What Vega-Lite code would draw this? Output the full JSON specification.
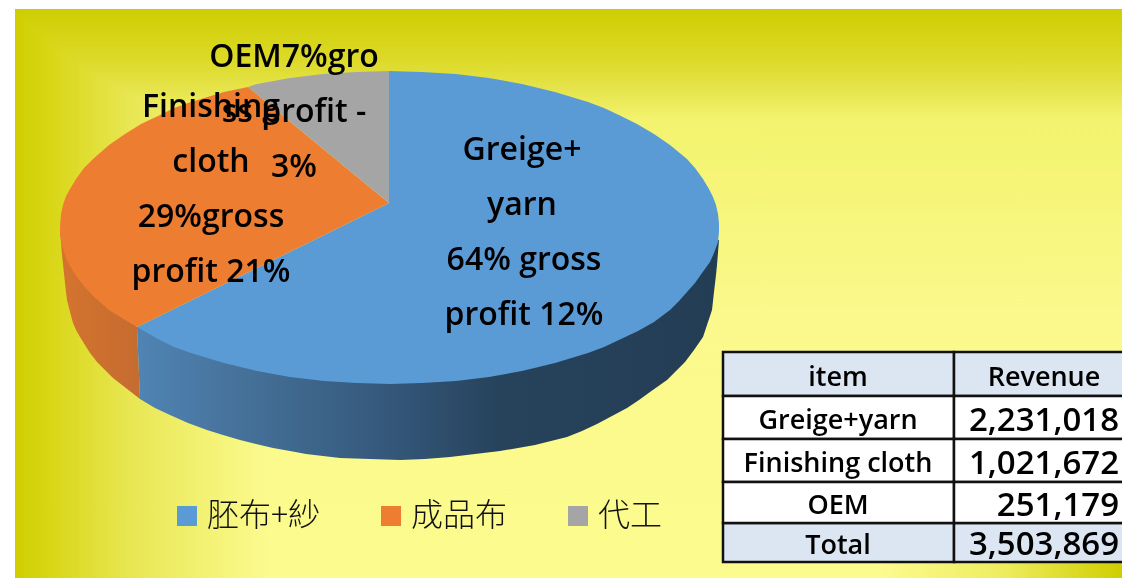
{
"$schema":"https://vega.github.io/schema/vega-lite/v6.json",
"width":1122,"height":578,
"autosize":{"type":"none"},
"padding":0,
"background":"#ffffff",
"view":{"stroke":null},
"datasets":{
"panel":[{"x":15,"x2":1130,"y":9,"y2":578}],
"leftBand":[{"x":15,"x2":300,"y":9,"y2":578}],
"cornerBand":[{"x":880,"x2":1122,"y":560,"y2":578}],
"sideOrange":[
{"o":1,"x":60,"y":230},{"o":2,"x":137,"y":327},{"o":3,"x":140,"y":399},{"o":4,"x":131,"y":392},{"o":5,"x":122,"y":385},{"o":6,"x":113,"y":378},{"o":7,"x":105,"y":370},{"o":8,"x":97,"y":362},{"o":9,"x":90,"y":353},{"o":10,"x":85,"y":345},{"o":11,"x":80,"y":337},{"o":12,"x":76,"y":330},{"o":13,"x":73,"y":323},{"o":14,"x":70,"y":312},{"o":15,"x":67,"y":300},{"o":16,"x":66,"y":292},{"o":17,"x":65,"y":283},{"o":18,"x":62,"y":255}],
"sideBlue":[
{"o":1,"x":137,"y":327},{"o":2,"x":389,"y":300},{"o":3,"x":719,"y":240},{"o":4,"x":717,"y":265},{"o":5,"x":716,"y":275},{"o":6,"x":714,"y":292},{"o":7,"x":712,"y":310},{"o":8,"x":708,"y":322},{"o":9,"x":703,"y":337},{"o":10,"x":694,"y":350},{"o":11,"x":685,"y":362},{"o":12,"x":676,"y":371},{"o":13,"x":667,"y":380},{"o":14,"x":650,"y":392},{"o":15,"x":639,"y":400},{"o":16,"x":627,"y":408},{"o":17,"x":612,"y":416},{"o":18,"x":597,"y":424},{"o":19,"x":582,"y":431},{"o":20,"x":567,"y":437},{"o":21,"x":551,"y":441},{"o":22,"x":535,"y":445},{"o":23,"x":518,"y":448},{"o":24,"x":500,"y":451},{"o":25,"x":475,"y":454},{"o":26,"x":450,"y":457},{"o":27,"x":425,"y":459},{"o":28,"x":400,"y":460},{"o":29,"x":370,"y":459},{"o":30,"x":340,"y":458},{"o":31,"x":323,"y":456},{"o":32,"x":306,"y":454},{"o":33,"x":290,"y":451},{"o":34,"x":273,"y":448},{"o":35,"x":256,"y":444},{"o":36,"x":240,"y":440},{"o":37,"x":223,"y":435},{"o":38,"x":207,"y":430},{"o":39,"x":188,"y":423},{"o":40,"x":170,"y":415},{"o":41,"x":155,"y":408},{"o":42,"x":140,"y":399}],
"top":[
{"s":"胚布+紗","o":1,"x":389,"y":203},{"s":"胚布+紗","o":2,"x":389,"y":71},{"s":"胚布+紗","o":3,"x":422,"y":72},{"s":"胚布+紗","o":4,"x":456,"y":74},{"s":"胚布+紗","o":5,"x":489,"y":78},{"s":"胚布+紗","o":6,"x":522,"y":84},{"s":"胚布+紗","o":7,"x":555,"y":92},{"s":"胚布+紗","o":8,"x":588,"y":102},{"s":"胚布+紗","o":9,"x":604,"y":108},{"s":"胚布+紗","o":10,"x":621,"y":116},{"s":"胚布+紗","o":11,"x":637,"y":124},{"s":"胚布+紗","o":12,"x":654,"y":134},{"s":"胚布+紗","o":13,"x":670,"y":145},{"s":"胚布+紗","o":14,"x":687,"y":159},{"s":"胚布+紗","o":15,"x":695,"y":168},{"s":"胚布+紗","o":16,"x":703,"y":179},{"s":"胚布+紗","o":17,"x":709,"y":189},{"s":"胚布+紗","o":18,"x":713,"y":197},{"s":"胚布+紗","o":19,"x":716,"y":205},{"s":"胚布+紗","o":20,"x":718,"y":214},{"s":"胚布+紗","o":21,"x":719,"y":223},{"s":"胚布+紗","o":22,"x":719,"y":232},{"s":"胚布+紗","o":23,"x":718,"y":242},{"s":"胚布+紗","o":24,"x":714,"y":253},{"s":"胚布+紗","o":25,"x":710,"y":262},{"s":"胚布+紗","o":26,"x":702,"y":273},{"s":"胚布+紗","o":27,"x":695,"y":283},{"s":"胚布+紗","o":28,"x":687,"y":292},{"s":"胚布+紗","o":29,"x":679,"y":301},{"s":"胚布+紗","o":30,"x":670,"y":310},{"s":"胚布+紗","o":31,"x":662,"y":316},{"s":"胚布+紗","o":32,"x":654,"y":322},{"s":"胚布+紗","o":33,"x":638,"y":331},{"s":"胚布+紗","o":34,"x":621,"y":339},{"s":"胚布+紗","o":35,"x":604,"y":347},{"s":"胚布+紗","o":36,"x":588,"y":353},{"s":"胚布+紗","o":37,"x":555,"y":363},{"s":"胚布+紗","o":38,"x":522,"y":371},{"s":"胚布+紗","o":39,"x":489,"y":377},{"s":"胚布+紗","o":40,"x":456,"y":381},{"s":"胚布+紗","o":41,"x":422,"y":383},{"s":"胚布+紗","o":42,"x":390,"y":384},{"s":"胚布+紗","o":43,"x":357,"y":383},{"s":"胚布+紗","o":44,"x":324,"y":381},{"s":"胚布+紗","o":45,"x":290,"y":377},{"s":"胚布+紗","o":46,"x":257,"y":371},{"s":"胚布+紗","o":47,"x":224,"y":363},{"s":"胚布+紗","o":48,"x":191,"y":353},{"s":"胚布+紗","o":49,"x":174,"y":347},{"s":"胚布+紗","o":50,"x":158,"y":339},{"s":"胚布+紗","o":51,"x":137,"y":327},
{"s":"成品布","o":1,"x":389,"y":203},{"s":"成品布","o":2,"x":137,"y":327},{"s":"成品布","o":3,"x":125,"y":320},{"s":"成品布","o":4,"x":109,"y":310},{"s":"成品布","o":5,"x":101,"y":303},{"s":"成品布","o":6,"x":93,"y":296},{"s":"成品布","o":7,"x":84,"y":286},{"s":"成品布","o":8,"x":76,"y":276},{"s":"成品布","o":9,"x":70,"y":266},{"s":"成品布","o":10,"x":66,"y":258},{"s":"成品布","o":11,"x":62,"y":245},{"s":"成品布","o":12,"x":60,"y":235},{"s":"成品布","o":13,"x":60,"y":227},{"s":"成品布","o":14,"x":61,"y":214},{"s":"成品布","o":15,"x":63,"y":205},{"s":"成品布","o":16,"x":66,"y":196},{"s":"成品布","o":17,"x":70,"y":189},{"s":"成品布","o":18,"x":76,"y":179},{"s":"成品布","o":19,"x":84,"y":168},{"s":"成品布","o":20,"x":93,"y":159},{"s":"成品布","o":21,"x":101,"y":152},{"s":"成品布","o":22,"x":109,"y":145},{"s":"成品布","o":23,"x":125,"y":134},{"s":"成品布","o":24,"x":141,"y":124},{"s":"成品布","o":25,"x":158,"y":116},{"s":"成品布","o":26,"x":174,"y":108},{"s":"成品布","o":27,"x":191,"y":102},{"s":"成品布","o":28,"x":224,"y":92},{"s":"成品布","o":29,"x":248,"y":87},
{"s":"代工","o":1,"x":389,"y":203},{"s":"代工","o":2,"x":248,"y":87},{"s":"代工","o":3,"x":257,"y":84},{"s":"代工","o":4,"x":290,"y":78},{"s":"代工","o":5,"x":323,"y":74},{"s":"代工","o":6,"x":356,"y":72},{"s":"代工","o":7,"x":389,"y":71}],
"labels":[
{"t":"OEM7%gro","x":294,"y":57},{"t":"ss profit -","x":294,"y":112},{"t":"3%","x":294,"y":167},
{"t":"Finishing","x":211,"y":107},{"t":"cloth","x":211,"y":162},{"t":"29%gross","x":211,"y":217},{"t":"profit 21%","x":211,"y":272},
{"t":"Greige+","x":522,"y":150},{"t":"yarn","x":522,"y":205},{"t":"64% gross","x":524,"y":260},{"t":"profit 12%","x":524,"y":315}],
"shaded":[
{"x":723,"x2":954,"y":352,"y2":396},{"x":954,"x2":1130,"y":352,"y2":396},
{"x":723,"x2":954,"y":523,"y2":562},{"x":954,"x2":1130,"y":523,"y2":562}],
"plain":[
{"x":723,"x2":954,"y":396,"y2":439},{"x":954,"x2":1130,"y":396,"y2":439},
{"x":723,"x2":954,"y":439,"y2":482},{"x":954,"x2":1130,"y":439,"y2":482},
{"x":723,"x2":954,"y":482,"y2":523},{"x":954,"x2":1130,"y":482,"y2":523}],
"col1":[{"t":"item","x":838,"y":378},{"t":"Greige+yarn","x":838,"y":421},{"t":"Finishing cloth","x":838,"y":464},{"t":"OEM","x":838,"y":506},{"t":"Total","x":838,"y":546}],
"head2":[{"t":"Revenue","x":1044,"y":378}],
"nums":[{"t":"2,231,018","x":1119,"y":421},{"t":"1,021,672","x":1119,"y":464},{"t":"251,179","x":1119,"y":506},{"t":"3,503,869","x":1119,"y":545}]
},
"encoding":{"x":{"field":"x","type":"quantitative","scale":{"domain":[0,1122],"nice":false,"zero":false},"axis":null},"y":{"field":"y","type":"quantitative","scale":{"domain":[0,578],"reverse":true,"nice":false,"zero":false},"axis":null}},
"layer":[
{"data":{"name":"panel"},"mark":{"type":"rect","fill":{"gradient":"linear","x1":0,"y1":0,"x2":0,"y2":1,"stops":[{"offset":0,"color":"#cfcd00"},{"offset":0.09,"color":"#dcda28"},{"offset":0.142,"color":"#e6e44c"},{"offset":0.195,"color":"#f3f36f"},{"offset":0.55,"color":"#fbf98c"},{"offset":1,"color":"#fcfb8e"}]}},
"encoding":{"x2":{"field":"x2"},"y2":{"field":"y2"}}},
{"data":{"name":"leftBand"},"mark":{"type":"rect","blend":"darken","fill":{"gradient":"linear","x1":0,"y1":0,"x2":1,"y2":0,"stops":[{"offset":0,"color":"#d0ce00"},{"offset":0.12,"color":"#d8d615"},{"offset":0.4,"color":"#e8e652"},{"offset":0.72,"color":"#f5f47a"},{"offset":1,"color":"#ffff9c"}]}},
"encoding":{"x2":{"field":"x2"},"y2":{"field":"y2"}}},
{"data":{"name":"cornerBand"},"mark":{"type":"rect","fill":{"gradient":"linear","x1":0,"y1":0,"x2":1,"y2":0,"stops":[{"offset":0,"color":"#fcfb8e"},{"offset":0.5,"color":"#eeed60"},{"offset":1,"color":"#d0ce00"}]}},
"encoding":{"x2":{"field":"x2"},"y2":{"field":"y2"}}},
{"data":{"name":"sideOrange"},"mark":{"type":"line","interpolate":"linear-closed","filled":true,"fill":{"gradient":"linear","x1":0,"y1":0,"x2":1,"y2":0,"stops":[{"offset":0,"color":"#d4742e"},{"offset":1,"color":"#c56c30"}]},"stroke":null},
"encoding":{"order":{"field":"o","type":"quantitative"}}},
{"data":{"name":"sideBlue"},"mark":{"type":"line","interpolate":"linear-closed","filled":true,"fill":{"gradient":"linear","x1":0,"y1":0,"x2":1,"y2":0,"stops":[{"offset":0,"color":"#5084b4"},{"offset":0.19,"color":"#457098"},{"offset":0.45,"color":"#335678"},{"offset":0.62,"color":"#27435c"},{"offset":1,"color":"#233d55"}]},"stroke":null},
"encoding":{"order":{"field":"o","type":"quantitative"}}},
{"data":{"name":"top"},"mark":{"type":"line","interpolate":"linear-closed","filled":true,"stroke":null},
"encoding":{"order":{"field":"o","type":"quantitative"},
"color":{"field":"s","type":"nominal","scale":{"domain":["胚布+紗","成品布","代工"],"range":["#5b9bd5","#ed7d31","#a5a5a5"]},
"legend":{"orient":"none","legendX":171,"legendY":500,"direction":"horizontal","columns":3,"title":null,"symbolType":"square","symbolSize":400,"symbolStrokeWidth":0,"labelFont":"Noto Sans CJK TC","labelFontSize":32,"labelFontWeight":300,"labelColor":"#111111","labelOffset":4,"columnPadding":54,"padding":0,"gridAlign":"none","symbolOpacity":1}}}},
{"data":{"name":"labels"},"mark":{"type":"text","font":"Open Sans","fontSize":32,"fontWeight":600,"color":"#000000","align":"center","baseline":"middle"},
"encoding":{"text":{"field":"t"}}},
{"data":{"name":"shaded"},"mark":{"type":"rect","fill":"#dce6f2","stroke":"#111111","strokeWidth":2.5},
"encoding":{"x2":{"field":"x2"},"y2":{"field":"y2"}}},
{"data":{"name":"plain"},"mark":{"type":"rect","fill":"#ffffff","stroke":"#111111","strokeWidth":2.5},
"encoding":{"x2":{"field":"x2"},"y2":{"field":"y2"}}},
{"data":{"name":"col1"},"mark":{"type":"text","font":"Open Sans","fontSize":27,"fontWeight":600,"color":"#000000","align":"center","baseline":"middle"},
"encoding":{"text":{"field":"t"}}},
{"data":{"name":"head2"},"mark":{"type":"text","font":"Open Sans","fontSize":27,"fontWeight":600,"color":"#000000","align":"center","baseline":"middle"},
"encoding":{"text":{"field":"t"}}},
{"data":{"name":"nums"},"mark":{"type":"text","font":"Open Sans","fontSize":33,"fontWeight":600,"color":"#000000","align":"right","baseline":"middle"},
"encoding":{"text":{"field":"t"}}}
]
}
